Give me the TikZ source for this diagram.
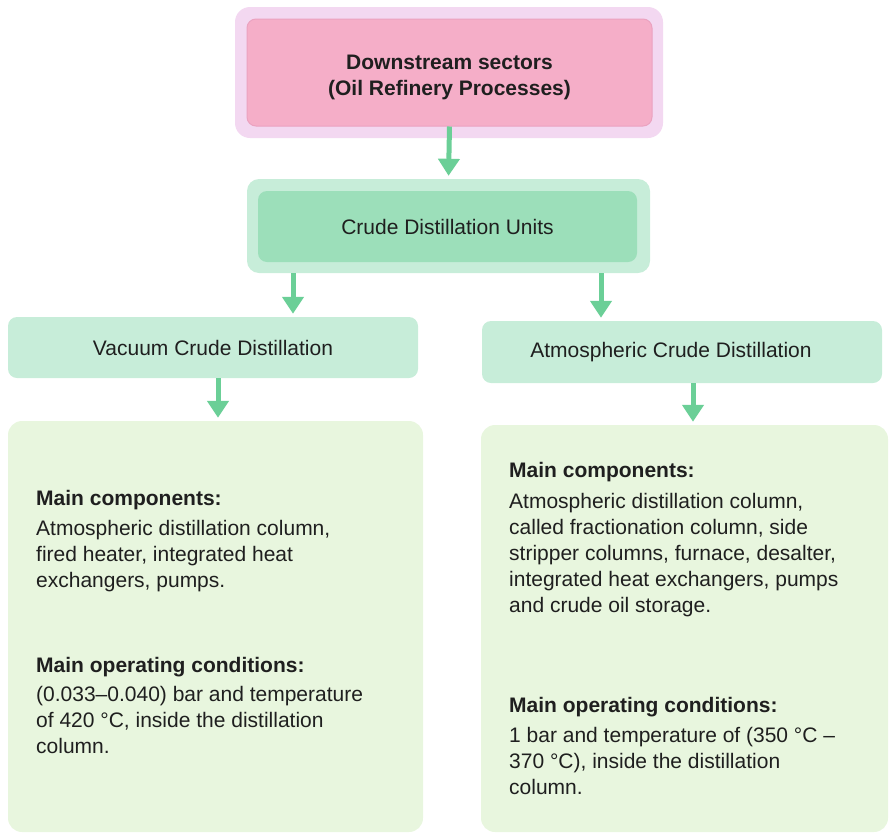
\documentclass[tikz,border=0pt]{standalone}
\usepackage{fontspec}
\setmainfont{Liberation Sans}
\usetikzlibrary{arrows.meta}
\definecolor{pinkOuter}{HTML}{F3D8F1}
\definecolor{pinkInner}{HTML}{F5AEC8}
\definecolor{pinkEdge}{HTML}{EBA2C0}
\definecolor{greenOuter}{HTML}{C7EDD9}
\definecolor{greenInner}{HTML}{9CDFBA}
\definecolor{greenLight}{HTML}{E8F6DE}
\definecolor{greenArrow}{HTML}{6BCF97}
\newcommand{\sectorFont}{\fontsize{21}{26}\selectfont}

\begin{document}
\begin{tikzpicture}[x=1pt,y=-1pt,%%
  font=\sectorFont,text=black!88,%%
  outerStyle/.style={rectangle,rounded corners=15pt,inner sep=0pt},%%
  boxStyle/.style={rectangle,rounded corners=9pt,inner sep=0pt,align=center},%%
  infoStyle/.style={rectangle,rounded corners=14pt,fill=greenLight,inner sep=0pt},%%
  textStyle/.style={anchor=north west,align=left,inner sep=0pt},%%
  arrowStyle/.style={-{Triangle[width=21pt,length=17pt]},line width=5pt,draw=greenArrow,shorten >=3pt}
]
\useasboundingbox (0,0) rectangle (889,833);
%%
%% The sector at the top.
\node[outerStyle,fill=pinkOuter,minimum width=428pt,minimum height=131pt] (downOuter) at (449,72.5) {};
\node[boxStyle,fill=pinkInner,draw=pinkEdge,line width=1pt,minimum width=405pt,minimum height=107pt,font=\sectorFont\bfseries] (down) at (449.5,72.5) {\rule{0pt}{25pt}Downstream sectors\\(Oil Refinery Processes)};
%% The units.
\node[outerStyle,rounded corners=12pt,fill=greenOuter,minimum width=403pt,minimum height=94pt] (cduOuter) at (448.5,226) {};
\node[boxStyle,fill=greenInner,minimum width=379pt,minimum height=71pt] (cdu) at (447.5,226.5) {Crude Distillation Units};
%% The two kinds of distillation.
\node[boxStyle,fill=greenOuter,minimum width=410pt,minimum height=61pt] (vac) at (213,347.5) {Vacuum Crude Distillation};
\node[boxStyle,fill=greenOuter,minimum width=400pt,minimum height=62pt] (atm) at (682,352) {\hspace*{-22pt}Atmospheric Crude Distillation};
%% The details.
\node[infoStyle,minimum width=415pt,minimum height=411pt] (vacInfo) at (215.5,626.5) {};
\node[infoStyle,minimum width=407pt,minimum height=407pt] (atmInfo) at (684.5,628.5) {};
\node[textStyle] (vacComp) at (36,490) {\textbf{Main components:}\\[4pt]Atmospheric distillation column,\\fired heater, integrated heat\\exchangers, pumps.};
\node[textStyle] (vacCond) at (36,657) {\textbf{Main operating conditions:}\\[3pt](0.033--0.040) bar and temperature\\of 420 °C, inside the distillation\\column.};
\node[textStyle] (atmComp) at (509,462) {\textbf{Main components:}\\[5pt]Atmospheric distillation column,\\called fractionation column, side\\stripper columns, furnace, desalter,\\integrated heat exchangers, pumps\\and crude oil storage.};
\node[textStyle] (atmCond) at (509,697) {\textbf{Main operating conditions:}\\[4pt]1 bar and temperature of (350 °C --\\370 °C), inside the distillation\\column.};
%%
%% The arrows.
\draw[arrowStyle] (down.south) -- (cduOuter.north);
\draw[arrowStyle] (cduOuter.south -| 293,0) -- (vac.north -| 293,0);
\draw[arrowStyle] (cduOuter.south -| 601,0) -- (atm.north -| 601,0);
\draw[arrowStyle] (vac.south -| 218,0) -- (vacInfo.north -| 218,0);
\draw[arrowStyle] (atm.south -| 693,0) -- (atmInfo.north -| 693,0);
\end{tikzpicture}
\end{document}
